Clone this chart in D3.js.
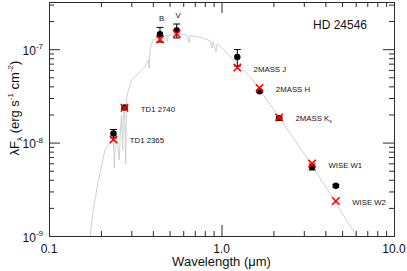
<!DOCTYPE html>
<html>
<head>
<meta charset="utf-8">
<script src="https://cdn.jsdelivr.net/npm/d3@7"></script>
<style>
  body { margin: 0; background: #fff; }
  svg { display: block; font-family: "Liberation Sans", Arial, Helvetica, sans-serif; }
</style>
</head>
<body>
<div id="root"></div>
<script>
// photometry: observed points (black) and model fluxes (red crosses)
const bandNames = ["TD1 2365", "TD1 2740", "B", "V", "2MASS J", "2MASS H", "2MASS K_s", "WISE W1", "WISE W2"]
const bandWavelength = [0.2365, 0.274, 0.44, 0.55, 1.235, 1.662, 2.159, 3.353, 4.603]
const observedFlux = [1.25e-8, 2.38e-8, 1.45e-7, 1.59e-7, 8.25e-8, 3.55e-8, 1.83e-8, 5.49e-9, 3.45e-9]
const observedError = [1.3e-9, 1.0e-9, 2.6e-8, 2.7e-8, 1.65e-8, 1.0e-9, 5e-10, 4e-10, 1e-10]
const modelFlux = [1.08e-8, 2.36e-8, 1.27e-7, 1.46e-7, 6.35e-8, 3.85e-8, 1.86e-8, 5.97e-9, 2.37e-9]
const labelAbove = ["B", "V"]

// model spectrum (grey line)
const specWavelength = [0.1717, 0.1768, 0.1806, 0.1848, 0.189, 0.1931, 0.1975, 0.2021, 0.2064, 0.2112,
  0.2207, 0.2309, 0.2359, 0.2391, 0.2423, 0.2479, 0.2556, 0.2591, 0.2633, 0.2675,
  0.2704, 0.274, 0.2784, 0.2821, 0.2882, 0.3016, 0.3152, 0.3294, 0.3446, 0.3602,
  0.3764, 0.3814, 0.385, 0.3939, 0.4024, 0.421, 0.4401, 0.4812, 0.4857, 0.4909,
  0.5499, 0.6284, 0.6506, 0.6567, 0.7506, 0.8577, 0.8809, 0.8928, 0.9293, 0.9417,
  1.024, 1.225, 1.463, 1.672, 2.163, 3.346, 6.184]
const specFlux = [0.9e-9, 1.37e-9, 1.89e-9, 2.41e-9, 3.09e-9, 3.95e-9, 4.70e-9, 5.73e-9, 6.98e-9, 8.29e-9,
  9.38e-9, 1.061e-8, 1.087e-8, 5.32e-9, 1.035e-8, 1.087e-8, 6.48e-9, 1.293e-8, 1.967e-8, 8.29e-9,
  2.337e-8, 2.455e-8, 6.02e-9, 2.99e-8, 3.64e-8, 4.67e-8, 5.06e-8, 5.50e-8, 5.97e-8, 6.48e-8,
  7.64e-8, 6.27e-8, 9.78e-8, 1.154e-7, 1.252e-7, 1.306e-7, 1.358e-7, 1.416e-7, 1.221e-7, 1.416e-7,
  1.477e-7, 1.416e-7, 1.163e-7, 1.399e-7, 1.348e-7, 1.23e-7, 1.028e-7, 1.206e-7, 9.31e-8, 1.148e-7,
  9.95e-8, 7.04e-8, 5.06e-8, 3.64e-8, 1.858e-8, 5.73e-9, 0.945e-9]

const targetName = "HD 24546"
const xMajorTicks = [0.1, 1, 10]
const yMajorTicks = [1e-9, 1e-8, 1e-7]
const yExponents = ["-9", "-8", "-7"]

function drawChart() {
  const ROOT_ELEM = d3.select("#root")
  ROOT_ELEM.selectAll("*").remove()

  const dimension = {
    width: 407,
    height: 271,
    margin: { top: 2, right: 13, bottom: 35, left: 49 },
  }
  const { width, height, margin } = dimension
  dimension.boundedWidth = width - margin.left - margin.right
  dimension.boundedHeight = height - margin.top - margin.bottom

  const svg = ROOT_ELEM.append("svg")
    .attr("width", width)
    .attr("height", height)

  const xScale = d3.scaleLog()
    .domain([0.1, 10])
    .range([margin.left, margin.left + dimension.boundedWidth])
  const yScale = d3.scaleLog()
    .domain([1e-9, 3.2e-7])
    .range([margin.top + dimension.boundedHeight, margin.top])

  const bottomY = margin.top + dimension.boundedHeight
  const rightX = margin.left + dimension.boundedWidth
  const axisColor = "#2a2a2a"

  // clip for the spectrum
  svg.append("defs").append("clipPath").attr("id", "plot-clip")
    .append("rect")
    .attr("x", margin.left).attr("y", margin.top)
    .attr("width", dimension.boundedWidth).attr("height", dimension.boundedHeight)

  // spectrum
  const spectrum = specWavelength.map((w, i) => ({ w, f: specFlux[i] }))
  const lineGen = d3.line().x(d => xScale(d.w)).y(d => yScale(d.f))
  svg.append("path")
    .datum(spectrum)
    .attr("clip-path", "url(#plot-clip)")
    .attr("d", lineGen)
    .attr("fill", "none")
    .attr("stroke", "#cbcbcb")
    .attr("stroke-width", 0.9)

  // axes: majors + minors on all four sides, ticks pointing in
  const xMinor = xScale.ticks().filter(t => !xMajorTicks.some(m => Math.abs(m - t) < 1e-9))
  const yMinor = yScale.ticks().filter(t => !yMajorTicks.some(m => Math.abs(m - t) / m < 1e-6))

  const addAxis = (gen, transform) => {
    const g = svg.append("g").attr("transform", transform).call(gen)
    g.selectAll("path, line").attr("stroke", axisColor)
    g.selectAll("text").remove()
    return g
  }
  addAxis(d3.axisBottom(xScale).tickValues(xMajorTicks).tickSize(-11).tickSizeOuter(0), `translate(0,${bottomY})`)
  addAxis(d3.axisBottom(xScale).tickValues(xMinor).tickSize(-5).tickSizeOuter(0), `translate(0,${bottomY})`)
  addAxis(d3.axisTop(xScale).tickValues(xMajorTicks).tickSize(-11).tickSizeOuter(0), `translate(0,${margin.top})`)
  addAxis(d3.axisTop(xScale).tickValues(xMinor).tickSize(-5).tickSizeOuter(0), `translate(0,${margin.top})`)
  addAxis(d3.axisLeft(yScale).tickValues(yMajorTicks).tickSize(-11).tickSizeOuter(0), `translate(${margin.left},0)`)
  addAxis(d3.axisLeft(yScale).tickValues(yMinor).tickSize(-5).tickSizeOuter(0), `translate(${margin.left},0)`)
  addAxis(d3.axisRight(yScale).tickValues(yMajorTicks).tickSize(-11).tickSizeOuter(0), `translate(${rightX},0)`)
  addAxis(d3.axisRight(yScale).tickValues(yMinor).tickSize(-5).tickSizeOuter(0), `translate(${rightX},0)`)

  // x tick labels
  svg.append("g").selectAll("text")
    .data(xMajorTicks)
    .join("text")
    .attr("x", d => xScale(d))
    .attr("y", bottomY + 16.5)
    .attr("text-anchor", "middle")
    .attr("font-size", 12)
    .attr("fill", "#111")
    .text(d3.format(".1f"))

  // y tick labels 10^n
  const yLabels = svg.append("g").selectAll("text")
    .data(yMajorTicks)
    .join("text")
    .attr("x", margin.left - 6)
    .attr("y", d => yScale(d) + 5.7)
    .attr("text-anchor", "end")
    .attr("font-size", 12)
    .attr("fill", "#111")
  yLabels.append("tspan").text("10")
  yLabels.append("tspan")
    .attr("font-size", 8)
    .attr("dy", -5.7)
    .text((d, i) => yExponents[i])

  // axis titles
  svg.append("text")
    .attr("x", margin.left + dimension.boundedWidth / 2)
    .attr("y", 266)
    .attr("text-anchor", "middle")
    .attr("font-size", 13)
    .attr("fill", "#111")
    .text("Wavelength (μm)")

  const yTitle = svg.append("text")
    .attr("transform", "translate(18.5,108) rotate(-90)")
    .attr("text-anchor", "middle")
    .attr("font-size", 13)
    .attr("fill", "#111")
  yTitle.append("tspan").text("λF")
  yTitle.append("tspan").attr("font-size", 8).attr("dy", 3).text("λ")
  yTitle.append("tspan").attr("dy", -3).text(" (erg s")
  yTitle.append("tspan").attr("font-size", 8).attr("dy", -6).text("-1")
  yTitle.append("tspan").attr("dy", 6).text(" cm")
  yTitle.append("tspan").attr("font-size", 8).attr("dy", -6).text("-2")
  yTitle.append("tspan").attr("dy", 6).text(")")

  // photometry
  const points = bandNames.map((name, i) => ({
    name,
    w: bandWavelength[i],
    obs: observedFlux[i],
    err: observedError[i],
    model: modelFlux[i],
  }))

  const errGroup = svg.append("g").attr("stroke", "#000").attr("stroke-width", 1)
  points.forEach(d => {
    const cx = xScale(d.w)
    const yTop = yScale(d.obs + d.err)
    const yBot = yScale(d.obs - d.err)
    errGroup.append("line").attr("x1", cx).attr("x2", cx).attr("y1", yTop).attr("y2", yBot)
    errGroup.append("line").attr("x1", cx - 3.5).attr("x2", cx + 3.5).attr("y1", yTop).attr("y2", yTop)
    errGroup.append("line").attr("x1", cx - 3.5).attr("x2", cx + 3.5).attr("y1", yBot).attr("y2", yBot)
  })

  svg.append("g").selectAll("circle")
    .data(points)
    .join("circle")
    .attr("cx", d => xScale(d.w))
    .attr("cy", d => yScale(d.obs))
    .attr("r", 3.2)
    .attr("fill", "#000")

  const s = 3.7
  svg.append("g").selectAll("path")
    .data(points)
    .join("path")
    .attr("d", d => {
      const cx = xScale(d.w), cy = yScale(d.model)
      return `M${cx - s},${cy - s}L${cx + s},${cy + s}M${cx - s},${cy + s}L${cx + s},${cy - s}`
    })
    .attr("stroke", "#ff0000")
    .attr("stroke-width", 1.6)
    .attr("fill", "none")

  // band labels
  const labels = svg.append("g").selectAll("text")
    .data(points)
    .join("text")
    .attr("font-size", 7.8)
    .attr("fill", "#111")
    .attr("text-anchor", d => labelAbove.includes(d.name) ? "middle" : "start")
    .attr("x", d => labelAbove.includes(d.name) ? xScale(d.w) + 1.5 : xScale(d.w) + 16.3)
    .attr("y", d => labelAbove.includes(d.name) ? yScale(d.obs + d.err) - 6.3 : yScale(d.model) + 4)
  labels.each(function (d) {
    const parts = d.name.split("_")
    const t = d3.select(this)
    t.append("tspan").text(parts[0])
    if (parts[1]) t.append("tspan").attr("font-size", 5).attr("dy", 1.5).text(parts[1])
  })

  // target name
  svg.append("text")
    .attr("x", 313)
    .attr("y", 29.3)
    .attr("font-size", 12)
    .attr("fill", "#111")
    .text(targetName)
}

drawChart()
</script>
</body>
</html>
